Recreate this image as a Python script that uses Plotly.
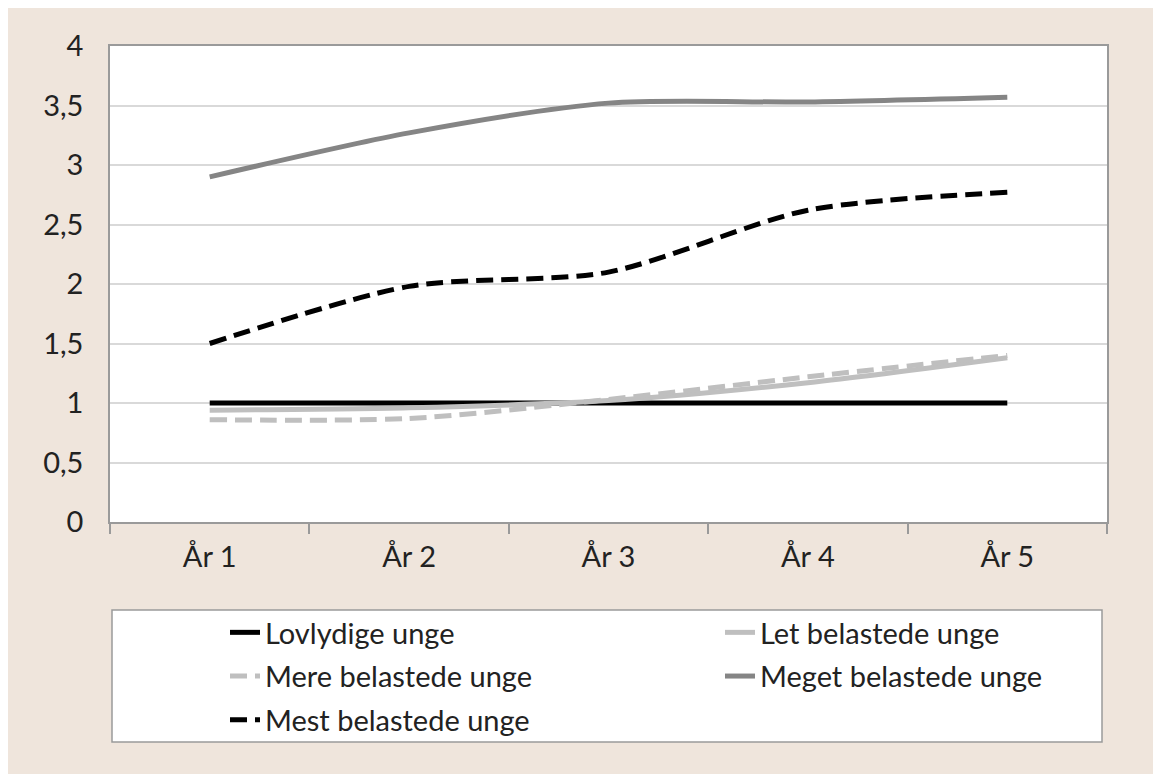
import plotly.graph_objects as go

categories = ["År 1", "År 2", "År 3", "År 4", "År 5"]
lovlydige = [1.0, 1.0, 1.0, 1.0, 1.0]
let_belastede = [0.94, 0.96, 1.02, 1.17, 1.38]
mere_belastede = [0.86, 0.87, 1.03, 1.22, 1.40]
meget_belastede = [2.90, 3.27, 3.52, 3.53, 3.57]
mest_belastede = [1.50, 1.98, 2.10, 2.62, 2.77]
y_ticks = [0, 0.5, 1, 1.5, 2, 2.5, 3, 3.5, 4]

# name, values, colour, dash, legend column
series = [
    ("Lovlydige unge", lovlydige, "#000000", "solid", "legend"),
    ("Let belastede unge", let_belastede, "#BFBFBF", "solid", "legend2"),
    ("Mere belastede unge", mere_belastede, "#BFBFBF", "17px,8px", "legend"),
    ("Meget belastede unge", meget_belastede, "#858585", "solid", "legend2"),
    ("Mest belastede unge", mest_belastede, "#000000", "17px,8px", "legend"),
]

FONT = "Lato"
FS = 29
fig = go.Figure()
for name, vals, color, dash, lg in series:
    fig.add_trace(go.Scatter(
        x=categories, y=vals, name=name, mode="lines", legend=lg, legendgroup=name,
        line=dict(color=color, width=5, dash=dash, shape="spline", smoothing=0.8),
    ))

W, H = 1161, 774
L, R, T, B = 102, 62, 38, 260
pw, ph = W - L - R, H - T - B

def px(x):
    return (x - L) / pw

def py(y):
    return (H - B - y) / ph

shapes = [
    dict(type="rect", xref="paper", yref="paper", x0=px(104), x1=px(1094), y0=py(734), y1=py(602),
         fillcolor="#FFFFFF", line=dict(color="#9A9A9A", width=1.5), layer="below"),
]

leg_common = dict(
    orientation="v", yanchor="top", xanchor="left",
    bgcolor="rgba(0,0,0,0)", borderwidth=0,
    font=dict(family=FONT, size=FS, color="#222222"),
    traceorder="grouped", tracegroupgap=3,
)

fig.update_layout(
    width=W, height=H,
    margin=dict(l=L, r=R, t=T, b=B),
    paper_bgcolor="#EFE5DC",
    plot_bgcolor="#FFFFFF",
    separators=",.",
    font=dict(family=FONT, size=FS, color="#222222"),
    shapes=shapes,
    showlegend=True,
    legend=dict(x=px(217), y=py(599), **leg_common),
    legend2=dict(x=px(712), y=py(599), **leg_common),
    xaxis=dict(
        type="category", range=[-0.5, 4.5],
        showgrid=False, showline=True, linecolor="#9A9A9A", linewidth=1.5, mirror=True,
        ticks="outside", tickson="boundaries", ticklen=10, tickcolor="#9A9A9A", tickwidth=1.5,
        ticklabelstandoff=8,
        tickfont=dict(family=FONT, size=FS, color="#222222"),
    ),
    yaxis=dict(
        range=[0, 4], tickvals=y_ticks, showgrid=True, gridcolor="#D9D9D9", gridwidth=1.5,
        showline=True, linecolor="#9A9A9A", linewidth=1.5, mirror=True,
        ticks="", ticklabelstandoff=19, zeroline=False,
        tickfont=dict(family=FONT, size=FS, color="#222222"),
    ),
)

fig.write_html("out.html")
